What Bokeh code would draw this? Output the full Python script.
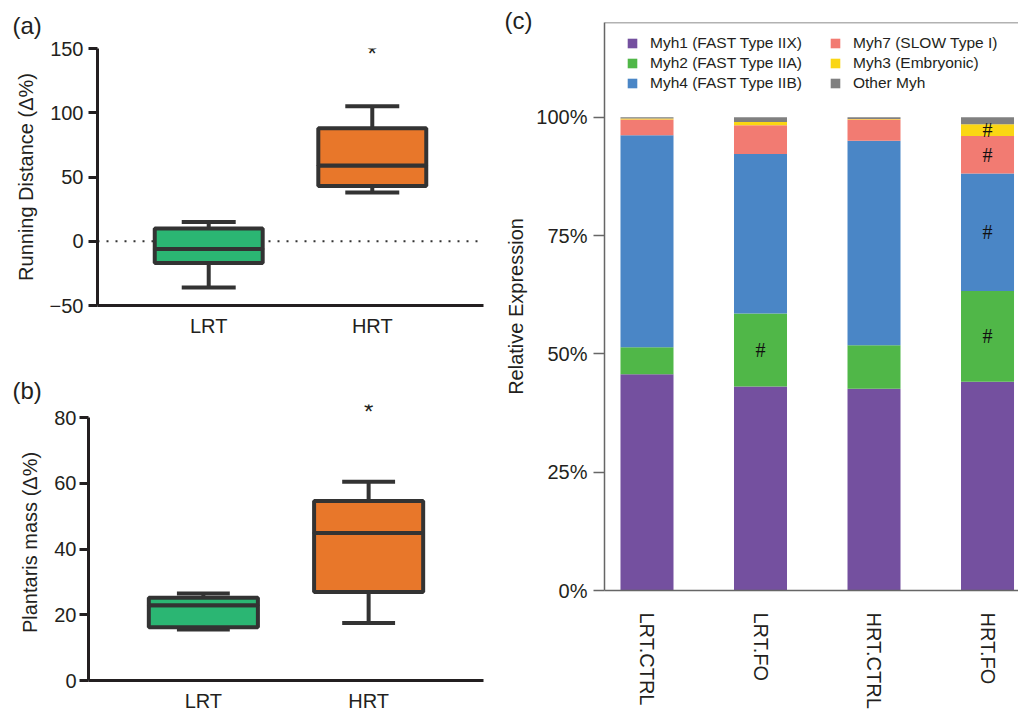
from bokeh.plotting import figure
from bokeh.models import (ColumnDataSource, FactorRange, Range1d, FixedTicker, Span,
                          Legend, LegendItem, PrintfTickFormatter)
from bokeh.transform import dodge
from bokeh.layouts import row, column
from bokeh.core.properties import value
from bokeh.embed import file_html
from bokeh.resources import INLINE

FONT = "Liberation Sans"
INK = "#231f20"

# ---------------- data ----------------
box_groups = ["LRT", "HRT"]
box_colors = ["#2bb673", "#e8772a"]

run_low = [-36, 38]
run_q1 = [-17, 43]
run_med = [-6, 59]
run_q3 = [10, 88]
run_high = [15, 105]
run_ticks = [-50, 0, 50, 100, 150]

plant_low = [15.5, 17.5]
plant_q1 = [16.2, 26.9]
plant_med = [22.9, 44.9]
plant_q3 = [25.2, 54.6]
plant_high = [26.5, 60.5]
plant_ticks = [0, 20, 40, 60, 80]

myh_groups = ["LRT.CTRL", "LRT.FO", "HRT.CTRL", "HRT.FO"]
myh1 = [45.7, 43.1, 42.6, 44.1]
myh2 = [5.7, 15.4, 9.2, 19.2]
myh4 = [44.8, 33.7, 43.2, 24.8]
myh7 = [3.3, 6.1, 4.5, 7.9]
myh3 = [0.2, 0.7, 0.1, 2.5]
myh_other = [0.3, 1.0, 0.4, 1.5]
myh_keys = ["myh1", "myh2", "myh4", "myh7", "myh3", "other"]
myh_labels = ["Myh1 (FAST Type IIX)", "Myh2 (FAST Type IIA)", "Myh4 (FAST Type IIB)",
              "Myh7 (SLOW Type I)", "Myh3 (Embryonic)", "Other Myh"]
myh_colors = ["#74509f", "#50b748", "#4a86c6", "#f27b72", "#fad614", "#808080"]
# segments marked "#" (series key -> group indices)
myh_sig = {"myh2": [1, 3], "myh4": [3], "myh7": [3], "myh3": [3]}
pct_ticks = [0, 25, 50, 75, 100]


def panel_title(p, text, offset, standoff, valign="bottom"):
    p.title.text = text
    p.title.align = "left"
    p.title.vertical_align = valign
    p.title.offset = offset
    p.title.text_font = FONT
    p.title.text_font_size = "24px"
    p.title.text_font_style = "normal"
    p.title.text_color = INK
    try:
        p.title.standoff = standoff
    except Exception:
        p.title.standoff = 0


def style_axes(p, ticks):
    for ax in (p.xaxis[0], p.yaxis[0]):
        ax.axis_line_color = INK
        ax.axis_line_width = 3
        ax.major_label_text_font = FONT
        ax.major_label_text_font_size = "20px"
        ax.major_label_text_color = INK
        ax.axis_label_text_font = FONT
        ax.axis_label_text_font_size = "20px"
        ax.axis_label_text_font_style = "normal"
        ax.axis_label_text_color = INK
        ax.minor_tick_line_color = None
    p.xaxis.major_tick_line_color = None
    p.xaxis.major_tick_out = 0
    p.xaxis.major_label_standoff = 9
    p.yaxis.ticker = FixedTicker(ticks=ticks)
    p.yaxis.bounds = (ticks[0], ticks[-1])
    p.yaxis.major_tick_line_color = INK
    p.yaxis.major_tick_line_width = 3
    p.yaxis.major_tick_out = 9
    p.yaxis.major_tick_in = 0
    p.yaxis.axis_label_standoff = 10
    p.grid.grid_line_color = None


def box_panel(low, q1, med, q3, high, ticks, ylabel, yr, fw, fh, bl, bt, bb, br, pad, cap):
    p = figure(x_range=FactorRange(factors=box_groups, range_padding=pad,
                                   range_padding_units="absolute"),
               y_range=Range1d(*yr), frame_width=fw, frame_height=fh,
               min_border_left=bl, min_border_top=bt, min_border_bottom=bb, min_border_right=br,
               output_backend="svg", toolbar_location=None, outline_line_color=None)
    src = ColumnDataSource(dict(g=box_groups, low=low, q1=q1, med=med, q3=q3, high=high,
                                c=box_colors))
    kw = dict(line_color="#333333", line_width=4)
    p.segment(x0="g", y0="low", x1="g", y1="high", source=src, **kw)
    for col in ("low", "high"):
        p.segment(x0=dodge("g", -cap / 2, range=p.x_range), y0=col,
                  x1=dodge("g", cap / 2, range=p.x_range), y1=col, source=src, **kw)
    p.vbar(x="g", bottom="q1", top="med", width=0.66, fill_color="c", source=src, **kw)
    p.vbar(x="g", bottom="med", top="q3", width=0.66, fill_color="c", source=src, **kw)
    style_axes(p, ticks)
    p.yaxis.axis_label = ylabel
    return p


# ---------------- panel (a) ----------------
pa = box_panel(run_low, run_q1, run_med, run_q3, run_high, run_ticks,
               "Running Distance (\u0394%)", (-50, 150), 386, 257, 97, 48, 47, 12, 0.18, 0.33)
pa.yaxis.major_label_overrides = {-50: "\u221250"}
pa.yaxis.major_label_standoff = 5
zero = Span(location=0, dimension="width", line_color="#333333", line_width=2.2,
            line_dash="2 7", level="underlay")
pa.add_layout(zero)
pa.text(x=[box_groups[1]], y=[146], text=["*"], text_align="center", text_baseline="middle",
        text_font=value(FONT), text_font_size="24px", text_color=INK)
panel_title(pa, "(a)", -85, 17, "middle")

# ---------------- panel (b) ----------------
pb = box_panel(plant_low, plant_q1, plant_med, plant_q3, plant_high, plant_ticks,
               "Plantaris mass (\u0394%)", (0, 84), 395, 276, 88, 52, 35, 12, 0.195, 0.32)
pb.yaxis.major_label_standoff = 3
pb.text(x=[box_groups[1]], y=[82], text=["*"], text_align="center", text_baseline="middle",
        text_font=value(FONT), text_font_size="24px", text_color=INK)
panel_title(pb, "(b)", -76, 2)

# ---------------- panel (c) ----------------
xs = list(range(len(myh_groups)))
series = dict(myh1=myh1, myh2=myh2, myh4=myh4, myh7=myh7, myh3=myh3, other=myh_other)
src_c = ColumnDataSource(dict(x=xs, **series))

pc = figure(x_range=Range1d(-0.3744, 3.273), y_range=Range1d(0, 120),
            frame_width=414, frame_height=568,
            min_border_left=109, min_border_top=22, min_border_bottom=125, min_border_right=0,
            output_backend="svg", toolbar_location=None, outline_line_color=None)
rends = pc.vbar_stack(myh_keys, x="x", width=0.467, fill_color=myh_colors, line_color=None,
                      source=src_c)

# "#" marks at the middle of flagged segments
mark_x, mark_y = [], []
for k, idxs in myh_sig.items():
    pos = myh_keys.index(k)
    for i in idxs:
        base = sum(series[myh_keys[j]][i] for j in range(pos))
        mark_x.append(xs[i])
        mark_y.append(base + series[k][i] / 2)
pc.text(x=mark_x, y=mark_y, text=["#"] * len(mark_x), text_align="center",
        text_baseline="middle", text_font=value("Liberation Serif"), text_font_size="20px",
        text_color="#111111")

GREY = "#666666"
for ax in (pc.xaxis[0], pc.yaxis[0]):
    ax.axis_line_color = GREY
    ax.axis_line_width = 1.5
    ax.major_label_text_font = FONT
    ax.major_label_text_font_size = "20px"
    ax.major_label_text_color = INK
    ax.axis_label_text_font = FONT
    ax.axis_label_text_font_size = "20px"
    ax.axis_label_text_font_style = "normal"
    ax.axis_label_text_color = INK
    ax.minor_tick_line_color = None
pc.xaxis.ticker = FixedTicker(ticks=xs)
pc.xaxis.major_label_overrides = {i: g for i, g in zip(xs, myh_groups)}
pc.xaxis.major_label_orientation = "vertical"
pc.xaxis.major_tick_line_color = None
pc.xaxis.major_tick_out = 0
pc.xaxis.major_label_standoff = 22
pc.yaxis.ticker = FixedTicker(ticks=pct_ticks)
pc.yaxis.formatter = PrintfTickFormatter(format="%d%%")
pc.yaxis.major_tick_line_color = GREY
pc.yaxis.major_tick_line_width = 1.5
pc.yaxis.major_tick_out = 11
pc.yaxis.major_tick_in = 0
pc.yaxis.major_label_standoff = 6
pc.yaxis.axis_label = "Relative Expression"
pc.yaxis.axis_label_standoff = 6
pc.grid.grid_line_color = None
pc.add_layout(Span(location=120, dimension="width", line_color=GREY, line_width=1.5))

leg_kw = dict(border_line_color=None, background_fill_alpha=0, padding=0, margin=0,
              spacing=2, glyph_width=12, glyph_height=12, label_standoff=12,
              label_text_font=FONT, label_text_font_size="15.5px", label_text_color=INK,
              label_height=16)
leg1 = Legend(items=[LegendItem(label=myh_labels[i], renderers=[rends[i]]) for i in range(3)],
              location=(22, 498), **leg_kw)
leg2 = Legend(items=[LegendItem(label=myh_labels[i], renderers=[rends[i]]) for i in range(3, 6)],
              location=(225, 498), **leg_kw)
pc.add_layout(leg1)
pc.add_layout(leg2)
panel_title(pc, "(c)", -100, -22)

layout = row(column(row(pa), row(pb)), pc)
open("out.html", "w").write(file_html(layout, INLINE, title="Myh figure"))
